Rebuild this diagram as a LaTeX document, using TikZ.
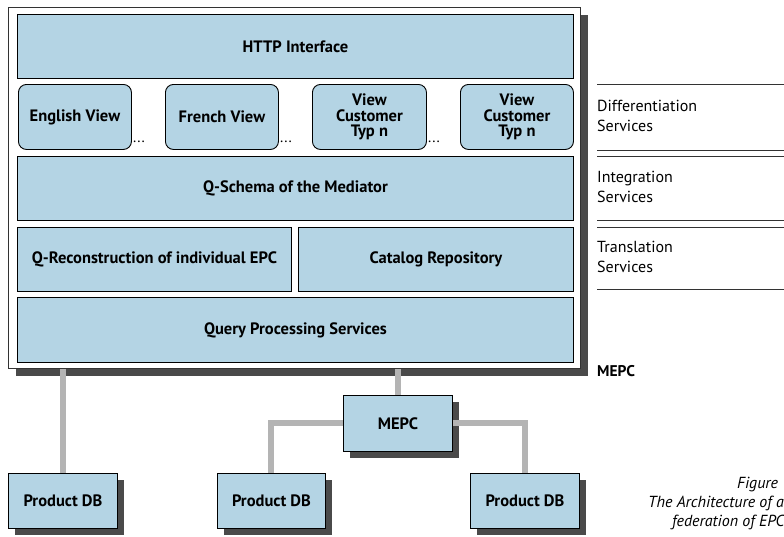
\documentclass[tikz,border=0pt]{standalone}
\usepackage{fontspec}
\setmainfont{PT Sans}
\usetikzlibrary{shadows}
\definecolor{boxblue}{HTML}{B4D4E4}
\definecolor{shadowgray}{HTML}{4A4A4A}
\definecolor{linkgray}{HTML}{B4B4B4}
\definecolor{edgegray}{HTML}{333333}
\tikzset{
  layer/.style={draw=black, line width=0.9pt, fill=boxblue, inner sep=0pt,
    anchor=north west, align=center, font=\bfseries\fontsize{16.5}{15.5}\selectfont},
  viewbox/.style={layer, rounded corners=8pt},
  shadowed/.style={general shadow={fill=shadowgray, shadow xshift=7pt, shadow yshift=-7pt}},
  dbbox/.style={layer, shadowed},
  conn/.style={draw=linkgray, line width=6pt},
  svcline/.style={draw=edgegray, line width=0.9pt},
  svclabel/.style={anchor=base west, inner sep=0pt, font=\fontsize{16}{18}\selectfont},
  captext/.style={anchor=base west, inner sep=0pt, font=\itshape\fontsize{16}{18}\selectfont},
  dots/.style={anchor=base west, inner sep=0pt, font=\fontsize{15}{17}\selectfont}
}
\begin{document}
\begin{tikzpicture}[x=1pt, y=-1pt]
\useasboundingbox (0,0) rectangle (784,536);

% mediator frame
\node[draw=edgegray, line width=1.2pt, fill=white, shadowed, inner sep=0pt,
      minimum width=572pt, minimum height=361pt, anchor=north west] (outer) at (8,7) {};

% service layers
\node[layer, minimum width=556pt, minimum height=64pt] (http) at (17,14) {HTTP Interface};
\node[viewbox, minimum width=113pt, minimum height=65pt] (eng) at (18,84) {English View};
\node[viewbox, minimum width=113pt, minimum height=65pt] (fre) at (165,84) {French View};
\node[viewbox, minimum width=114pt, minimum height=65pt] (cust1) at (312,84) {View\\Customer\\Typ n};
\node[viewbox, minimum width=113pt, minimum height=65pt] (custn) at (460,84) {View\\Customer\\Typ n};
\node[dots] (d1) at (133,142) {...};
\node[dots] (d2) at (280,142) {...};
\node[dots] (d3) at (428,142) {...};
\node[layer, minimum width=556pt, minimum height=64pt] (qschema) at (17,156) {Q-Schema of the Mediator};
\node[layer, minimum width=274pt, minimum height=64pt] (qrec) at (17,227) {Q-Reconstruction of individual EPC};
\node[layer, minimum width=275pt, minimum height=64pt] (catalog) at (298,227) {Catalog Repository};
\node[layer, minimum width=556pt, minimum height=65pt] (query) at (17,297) {Query Processing Services};

% service level legend
\coordinate (r0) at (597,0);
\coordinate (r1) at (784,0);
\foreach \yy in {84,150,156,220,227,289}
  \draw[svcline] (r0 |- 0,\yy) -- (r1 |- 0,\yy);
\node[svclabel] (diff) at (597,111) {Differentiation};
\node[svclabel] (diffs) at (597,131) {Services};
\node[svclabel] (integ) at (597,182) {Integration};
\node[svclabel] (integs) at (597,202) {Services};
\node[svclabel] (trans) at (597,252) {Translation};
\node[svclabel] (transs) at (597,272) {Services};
\node[svclabel, font=\bfseries\fontsize{15.5}{17}\selectfont] (mlabel) at (597,376) {MEPC};

% federation below
\node[dbbox, minimum width=109pt, minimum height=56pt] (mepc) at (343,395) {MEPC};
\node[dbbox, minimum width=109pt, minimum height=55pt] (pdb1) at (8,473) {Product DB};
\node[dbbox, minimum width=108pt, minimum height=55pt] (pdb2) at (217,473) {Product DB};
\node[dbbox, minimum width=109pt, minimum height=55pt] (pdb3) at (470,473) {Product DB};

\draw[conn] (pdb1.north) -- (pdb1.north |- outer.south);
\draw[conn] (mepc.north) -- (mepc.north |- outer.south);
\draw[conn] (mepc.west) -| (pdb2.north);
\draw[conn] (mepc.east) -| (pdb3.north);

% caption
\node[captext] (cap1) at (737,488) {Figure};
\node[captext] (cap2) at (648,507) {The Architecture of a};
\node[captext] (cap3) at (672,526) {federation of EPC};
\end{tikzpicture}
\end{document}
